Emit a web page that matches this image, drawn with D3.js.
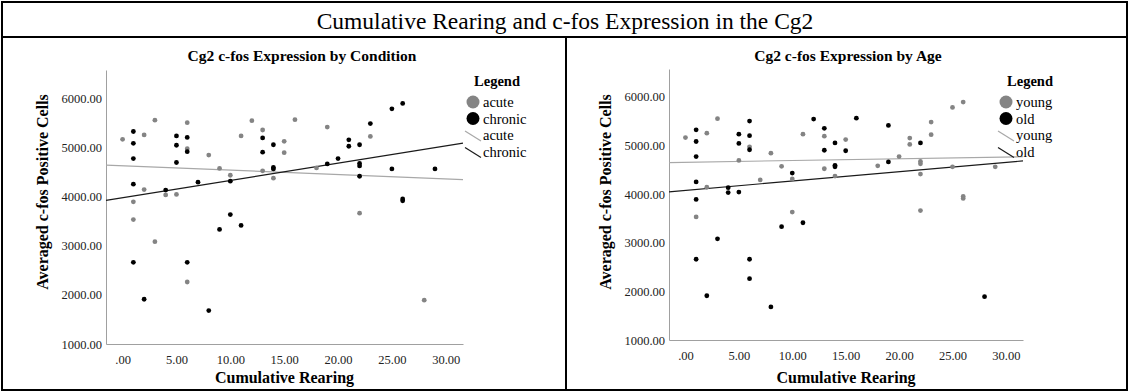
<!DOCTYPE html>
<html>
<head>
<meta charset="utf-8">
<script src="https://cdn.jsdelivr.net/npm/d3@7"></script>
<style>
  html, body { margin: 0; padding: 0; background: #fff; }
  svg { display: block; }
  svg text { font-family: "Liberation Serif", "Times New Roman", serif !important; }
</style>
</head>
<body>
<svg id="chart" width="1129" height="392"></svg>
<script>
// one entry per animal: rearing count, averaged c-fos cells, condition, age
const rearing = [
  0, 1, 1, 1, 1, 1, 2, 2, 3, 4, 4, 5, 5, 5, 5, 6, 6, 6, 6, 8, 7, 9, 10, 10,
  11, 12, 13, 13, 13, 13, 14, 14, 14, 14, 15, 15, 16, 18, 19, 19, 20, 21, 21,
  22, 22, 22, 22, 23, 23, 25, 25, 26, 26, 26, 29, 1, 3, 1, 6, 6, 2, 8, 9, 10,
  11, 22, 28
];
const cfos = [
  5160, 5320, 5080, 4770, 4250, 3890, 5250, 4140, 5550, 4130, 4030, 5230, 5040,
  4690, 4040, 5500, 5200, 4970, 4910, 4840, 4290, 4570, 4430, 4310, 5230, 5540,
  5350, 5190, 4900, 4520, 5050, 4590, 4560, 4370, 5120, 4890, 5560, 4580, 5410,
  4660, 4770, 5150, 5020, 5050, 4670, 4620, 4410, 5220, 5480, 5780, 4560, 5890,
  3950, 3910, 4560, 3530, 3080, 2660, 2660, 2260, 1910, 1680, 3330, 3630, 3410,
  3660, 1890
];
const condition = [
  'acute', 'chronic', 'chronic', 'chronic', 'chronic', 'acute', 'acute', 'acute',
  'acute', 'chronic', 'acute', 'chronic', 'chronic', 'chronic', 'acute', 'acute',
  'chronic', 'acute', 'chronic', 'acute', 'chronic', 'acute', 'acute', 'chronic',
  'acute', 'acute', 'acute', 'chronic', 'chronic', 'acute', 'chronic', 'chronic',
  'chronic', 'acute', 'acute', 'acute', 'acute', 'acute', 'acute', 'chronic',
  'chronic', 'chronic', 'chronic', 'chronic', 'chronic', 'chronic', 'chronic',
  'acute', 'chronic', 'chronic', 'chronic', 'chronic', 'chronic', 'chronic',
  'chronic', 'acute', 'acute', 'chronic', 'chronic', 'acute', 'chronic', 'chronic',
  'chronic', 'chronic', 'chronic', 'acute', 'acute'
];
const age = [
  'young', 'old', 'old', 'old', 'old', 'old', 'young', 'young', 'young', 'old',
  'old', 'old', 'old', 'young', 'old', 'old', 'old', 'young', 'old', 'young',
  'young', 'young', 'old', 'young', 'young', 'old', 'old', 'young', 'old', 'young',
  'old', 'old', 'old', 'young', 'young', 'old', 'old', 'young', 'old', 'old',
  'young', 'young', 'young', 'old', 'young', 'young', 'young', 'young', 'young',
  'young', 'young', 'young', 'young', 'young', 'young', 'young', 'old', 'old',
  'old', 'old', 'old', 'old', 'old', 'young', 'old', 'young', 'old'
];

// fit lines (intercept at 0 rearing, slope per rearing)
const conditionGroups = ['acute', 'chronic'];
const conditionFit = [4623, -8.93, 3975, 35.06];
const ageGroups = ['young', 'old'];
const ageFit = [4653, 3.6, 4075, 19.2];

const xTicks = [0, 5, 10, 15, 20, 25, 30];
const yTicks = [1000, 2000, 3000, 4000, 5000, 6000];

const mainTitle = 'Cumulative Rearing and c-fos Expression in the Cg2';
const xTitle = 'Cumulative Rearing';
const yTitle = 'Averaged c-fos Positive Cells';

const dotColor = ['#848484', '#000000'];
const lineColor = ['#a8a8a8', '#1a1a1a'];

const svg = d3.select('#chart');

// frame
svg.append('rect').attr('x', 2).attr('y', 2).attr('width', 1125).attr('height', 388)
  .attr('fill', 'none').attr('stroke', '#000').attr('stroke-width', 2);
svg.append('line').attr('x1', 2).attr('x2', 1127).attr('y1', 37).attr('y2', 37)
  .attr('stroke', '#000').attr('stroke-width', 2);
svg.append('line').attr('x1', 566).attr('x2', 566).attr('y1', 37).attr('y2', 390)
  .attr('stroke', '#000').attr('stroke-width', 2);
svg.append('text').attr('x', 565).attr('y', 29).attr('text-anchor', 'middle')
  .attr('font-size', 23.5).text(mainTitle);

function drawPanel(cfg) {
  const x = d3.scaleLinear().domain([-1.54, 31.6]).range([cfg.left, cfg.right]);
  const y = d3.scaleLinear().domain([1000, 6570]).range([cfg.bottom, cfg.top]);
  const g = svg.append('g');
  const color = d3.scaleOrdinal().domain(cfg.groups).range(dotColor);
  const lcolor = d3.scaleOrdinal().domain(cfg.groups).range(lineColor);

  g.append('text').attr('x', cfg.titleX).attr('y', 61).attr('text-anchor', 'middle')
    .attr('font-size', 15.5).attr('font-weight', 'bold').text(cfg.title);

  // axes: plain grey lines, no ticks
  const xAxis = g.append('g').attr('transform', `translate(0,${cfg.bottom})`)
    .call(d3.axisBottom(x).tickValues(xTicks).tickSize(0).tickPadding(11)
      .tickFormat(v => v === 0 ? '.00' : v.toFixed(2)));
  const yAxis = g.append('g').attr('transform', `translate(${cfg.left},0)`)
    .call(d3.axisLeft(y).tickValues(yTicks).tickSize(0).tickPadding(4)
      .tickFormat(v => v.toFixed(2)));
  [xAxis, yAxis].forEach(a => {
    a.select('.domain').attr('stroke', '#a0a0a0');
    a.selectAll('text').attr('font-size', 12.5).attr('fill', '#222');
  });

  g.append('text').attr('x', (cfg.left + cfg.right) / 2).attr('y', 383)
    .attr('text-anchor', 'middle').attr('font-size', 16).attr('font-weight', 'bold')
    .text(xTitle);
  g.append('text').attr('transform', `translate(${cfg.left - 58},192) rotate(-90)`)
    .attr('text-anchor', 'middle').attr('font-size', 16).attr('font-weight', 'bold')
    .text(yTitle);

  // fit lines
  cfg.groups.forEach((grp, i) => {
    const b0 = cfg.fit[i * 2], b1 = cfg.fit[i * 2 + 1];
    const [d0, d1] = x.domain();
    g.append('line')
      .attr('x1', x(d0)).attr('y1', y(b0 + b1 * d0))
      .attr('x2', x(d1)).attr('y2', y(b0 + b1 * d1))
      .attr('stroke', lcolor(grp)).attr('stroke-width', 1.2);
  });

  g.append('g').selectAll('circle').data(d3.range(rearing.length)).join('circle')
    .attr('cx', i => x(rearing[i]))
    .attr('cy', i => y(cfos[i]))
    .attr('r', 2.4)
    .attr('fill', i => color(cfg.groupOf[i]));

  // legend
  const lg = g.append('g').attr('transform', `translate(${cfg.legendX},0)`);
  lg.append('text').attr('x', 24).attr('y', 86).attr('text-anchor', 'middle')
    .attr('font-size', 14.5).attr('font-weight', 'bold').text('Legend');
  cfg.groups.forEach((grp, i) => {
    lg.append('circle').attr('cx', 0).attr('cy', 102 + i * 16.5).attr('r', 6.5)
      .attr('fill', color(grp));
    lg.append('text').attr('x', 10).attr('y', 107 + i * 16.5).attr('font-size', 14.5)
      .text(grp);
    lg.append('line').attr('x1', -8).attr('y1', 131 + i * 16.5)
      .attr('x2', 8).attr('y2', 141 + i * 16.5)
      .attr('stroke', lcolor(grp)).attr('stroke-width', 1.2);
    lg.append('text').attr('x', 10).attr('y', 140 + i * 16.5).attr('font-size', 14.5)
      .text(grp);
  });
}

drawPanel({
  title: 'Cg2 c-fos Expression by Condition', titleX: 302,
  left: 106, right: 463, top: 70, bottom: 344,
  groups: conditionGroups, fit: conditionFit, groupOf: condition, legendX: 473
});
drawPanel({
  title: 'Cg2 c-fos Expression by Age', titleX: 848,
  left: 669, right: 1023, top: 69, bottom: 340,
  groups: ageGroups, fit: ageFit, groupOf: age, legendX: 1006
});
</script>
</body>
</html>
